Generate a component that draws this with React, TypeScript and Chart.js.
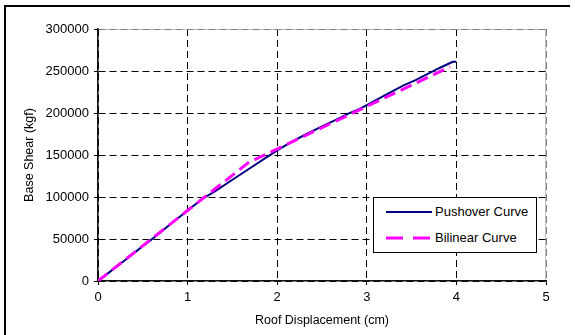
import React, { useEffect, useRef } from 'react';
import { Chart, registerables } from 'chart.js';

Chart.register(...registerables);

// ---- data ----
const xTicks = [0, 1, 2, 3, 4, 5];
const yTicks = [0, 50000, 100000, 150000, 200000, 250000, 300000];

const pushoverX = [0, 0.1, 0.3, 0.5, 0.63, 0.8, 1.0, 1.16, 1.3, 1.5, 1.7, 1.85, 2.0, 2.15, 2.3, 2.5, 2.66, 2.8, 2.92, 3.0, 3.2, 3.41, 3.55, 3.67, 3.8, 3.9, 3.96, 4.0];
const pushoverY = [0, 8200, 24800, 41500, 52000, 67000, 84000, 97500, 106500, 120500, 134500, 145000, 155500, 165000, 173500, 184000, 192000, 199500, 205000, 209500, 221000, 233000, 239500, 246000, 253000, 258000, 261000, 261000];

const bilinearX = [0, 1.68, 3.93];
const bilinearY = [0, 141000, 255000];

const seriesLabels = ['Pushover Curve', 'Bilinear Curve'];
const seriesColors = ['#000080', '#ff00ff'];
const xAxisTitle = 'Roof Displacement (cm)';
const yAxisTitle = 'Base Shear (kgf)';

const FONT = '"Liberation Sans", Arial, sans-serif';

const frameBg = {
  id: 'frameBg',
  beforeDraw(chart: any) {
    const { ctx, chartArea } = chart;
    if (!chartArea) return;
    ctx.save();
    ctx.strokeStyle = '#c0c0c0';
    ctx.lineWidth = 1;
    ctx.strokeRect(chartArea.left + 0.5, chartArea.top + 0.5, chartArea.right - chartArea.left - 1, chartArea.bottom - chartArea.top - 1);
    ctx.restore();
  },
};

export default function App() {
  const ref = useRef<HTMLCanvasElement>(null);

  useEffect(() => {
    if (!ref.current) return;
    const chart = new Chart(ref.current, {
      type: 'line',
      data: {
        datasets: [
          {
            label: seriesLabels[0],
            data: pushoverX.map((x, i) => ({ x, y: pushoverY[i] })),
            borderColor: seriesColors[0],
            borderWidth: 2,
            pointRadius: 0,
            tension: 0,
            fill: false,
            order: 1,
          },
          {
            label: seriesLabels[1],
            data: bilinearX.map((x, i) => ({ x, y: bilinearY[i] })),
            borderColor: seriesColors[1],
            borderWidth: 3,
            borderDash: [12, 6],
            pointRadius: 0,
            tension: 0,
            fill: false,
            order: 0,
          },
        ],
      },
      options: {
        animation: false,
        responsive: false,
        maintainAspectRatio: false,
        layout: { padding: { left: 0, top: 29, right: 29, bottom: 0 } },
        plugins: {
          legend: { display: false },
          tooltip: { enabled: false },
        },
        scales: {
          x: {
            type: 'linear',
            min: 0,
            max: 5,
            afterBuildTicks: (s: any) => {
              s.ticks = xTicks.map((v) => ({ value: v }));
            },
            afterFit: (s: any) => {
              s.height = 54;
            },
            ticks: {
              font: { family: FONT, size: 13 },
              color: '#000',
              padding: 5,
              maxRotation: 0,
              callback: (v: any) => String(v),
            },
            grid: {
              color: (c: any) => (c.tick && c.tick.value === 5 ? '#808080' : '#000'),
              lineWidth: 1,
              tickColor: '#000',
              tickLength: 4,
            },
            border: { color: '#111', width: 1.5, dash: [7, 4] },
            title: {
              display: true,
              text: xAxisTitle,
              font: { family: FONT, size: 12.5 },
              color: '#000',
              padding: { top: 0, bottom: 6.5 },
            },
          },
          y: {
            type: 'linear',
            min: 0,
            max: 300000,
            afterBuildTicks: (s: any) => {
              s.ticks = yTicks.map((v) => ({ value: v }));
            },
            afterFit: (s: any) => {
              s.width = 98;
            },
            ticks: {
              font: { family: FONT, size: 13 },
              color: '#000',
              padding: 5,
              callback: (v: any) => String(v),
            },
            grid: {
              color: (c: any) => (c.tick && c.tick.value === 300000 ? '#808080' : '#000'),
              lineWidth: 1,
              tickColor: '#000',
              tickLength: 4,
            },
            border: { color: '#111', width: 1.5, dash: [7, 4] },
            title: {
              display: true,
              text: yAxisTitle,
              font: { family: FONT, size: 12.5 },
              color: '#000',
              padding: { top: 22.5, bottom: 0 },
            },
          },
        },
      },
      plugins: [frameBg],
    } as any);
    return () => chart.destroy();
  }, []);

  const rowTop = [212, 238];
  return (
    <div style={{ position: 'absolute', left: 0, top: 0, width: 575, height: 335, background: '#fff', overflow: 'hidden' }}>
      <canvas ref={ref} width={575} height={335} style={{ position: 'absolute', left: 0, top: 0, width: 575, height: 335 }} />
      <div style={{ position: 'absolute', left: 4, top: 5, width: 566, height: 340, borderLeft: '2px solid #000', borderTop: '2px solid #000', boxSizing: 'border-box' }} />
      <div
        style={{
          position: 'absolute',
          left: 373,
          top: 197,
          width: 164,
          height: 56,
          border: '1px solid #000',
          background: '#fff',
          boxSizing: 'border-box',
          fontFamily: FONT,
          fontSize: 13,
          color: '#000',
        }}
      >
        {seriesLabels.map((lab, i) => (
          <React.Fragment key={lab}>
            <svg style={{ position: 'absolute', left: 12, top: rowTop[i] - 198 - 3, width: 48, height: 6 }} width={48} height={6}>
              <line
                x1={0}
                y1={3}
                x2={46}
                y2={3}
                stroke={seriesColors[i]}
                strokeWidth={i === 0 ? 2 : 3}
                strokeDasharray={i === 0 ? undefined : '17 10'}
              />
            </svg>
            <span style={{ position: 'absolute', left: 61, top: rowTop[i] - 198 - 8, lineHeight: '16px', whiteSpace: 'nowrap' }}>{lab}</span>
          </React.Fragment>
        ))}
      </div>
    </div>
  );
}
